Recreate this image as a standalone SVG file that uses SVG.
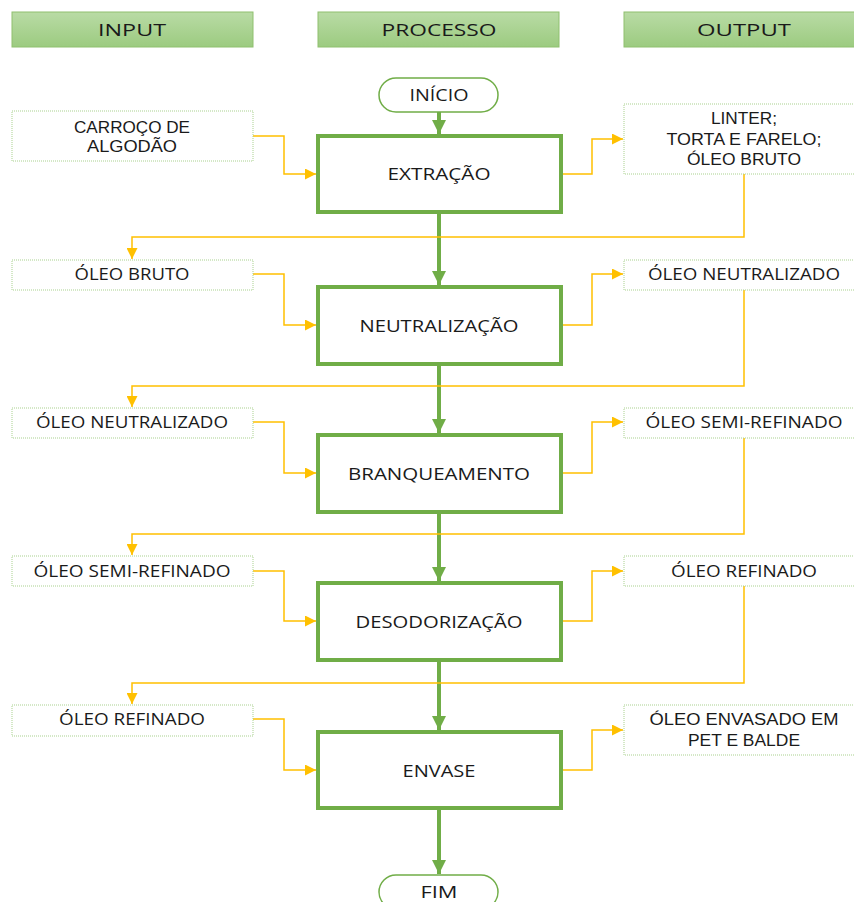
<svg xmlns="http://www.w3.org/2000/svg" width="854" height="902" viewBox="0 0 854 902">
<defs>
<linearGradient id="hg" x1="0" y1="0" x2="0" y2="1">
<stop offset="0" stop-color="#b9dba5"/>
<stop offset="1" stop-color="#9ccb80"/>
</linearGradient>
<marker id="ga" markerUnits="userSpaceOnUse" markerWidth="14" markerHeight="14" viewBox="0 0 14 14" refX="14" refY="7" orient="auto">
<path d="M0,0 L14,7 L0,14 Z" fill="#70ad47"/>
</marker>
<marker id="ya" markerUnits="userSpaceOnUse" markerWidth="11" markerHeight="11" viewBox="0 0 11 11" refX="11" refY="5.5" orient="auto">
<path d="M0,0 L11,5.5 L0,11 Z" fill="#ffc000"/>
</marker>
</defs>
<style>
.hdr{fill:url(#hg);stroke:#8fc06f;stroke-width:1}
.proc{fill:#fff;stroke:#70ad47;stroke-width:4}
.pill{fill:#fff;stroke:#70ad47;stroke-width:1.5}
.io{fill:#fff;stroke:#a9d18e;stroke-width:1;stroke-dasharray:1 1}
.g{fill:none;stroke:#70ad47;stroke-width:4;marker-end:url(#ga)}
.y{fill:none;stroke:#ffc000;stroke-width:1.5;marker-end:url(#ya)}
text{font-family:"Open Sans","Liberation Sans",sans-serif;fill:#1a1a1a;text-anchor:middle;font-size:16px}
.ht{font-size:17px}
.ml{font-family:"Liberation Sans","Open Sans",sans-serif;font-size:16px}
</style>
<rect width="854" height="902" fill="#fff"/>
<g id="hdr-input"><rect class="hdr" x="12" y="12" width="241" height="35"/><text class="ht" x="132" y="36" textLength="68" lengthAdjust="spacingAndGlyphs">INPUT</text></g>
<g id="hdr-processo"><rect class="hdr" x="318" y="12" width="241" height="35"/><text class="ht" x="439" y="36" textLength="115" lengthAdjust="spacingAndGlyphs">PROCESSO</text></g>
<g id="hdr-output"><rect class="hdr" x="624" y="12" width="242" height="35"/><text class="ht" x="744" y="36" textLength="94" lengthAdjust="spacingAndGlyphs">OUTPUT</text></g>

<g id="connectors">
<path class="g" d="M439,112 V134"/>
<path class="g" d="M439,213 V285"/>
<path class="g" d="M439,366 V433"/>
<path class="g" d="M439,514 V581"/>
<path class="g" d="M439,662 V730"/>
<path class="g" d="M439,809 V874"/>
<path class="y" d="M253,136 H284 V174 H316"/>
<path class="y" d="M253,274 H284 V325 H316"/>
<path class="y" d="M253,422 H284 V473 H316"/>
<path class="y" d="M253,571 H284 V621 H316"/>
<path class="y" d="M253,719 H284 V770 H316"/>
<path class="y" d="M561,174 H592 V139 H623"/>
<path class="y" d="M561,325 H592 V274 H623"/>
<path class="y" d="M561,473 H592 V422 H623"/>
<path class="y" d="M561,621 H592 V571 H623"/>
<path class="y" d="M561,770 H592 V730 H623"/>
<path class="y" d="M744,174 V237 H132 V259"/>
<path class="y" d="M744,290 V386 H132 V407"/>
<path class="y" d="M744,438 V534 H132 V555"/>
<path class="y" d="M744,586 V683 H132 V704"/>
</g>

<g id="inicio"><rect class="pill" x="379" y="78" width="119" height="34" rx="17"/><text x="439" y="101" textLength="59" lengthAdjust="spacingAndGlyphs">INÍCIO</text></g>
<g id="fim"><rect class="pill" x="379" y="875" width="119" height="34" rx="17"/><text x="439" y="898" textLength="37" lengthAdjust="spacingAndGlyphs">FIM</text></g>

<g id="extracao"><rect class="proc" x="318" y="136" width="243" height="76"/><text x="439" y="180" textLength="103" lengthAdjust="spacingAndGlyphs">EXTRAÇÃO</text></g>
<g id="neutralizacao"><rect class="proc" x="318" y="287" width="243" height="77"/><text x="439" y="332" textLength="159" lengthAdjust="spacingAndGlyphs">NEUTRALIZAÇÃO</text></g>
<g id="branqueamento"><rect class="proc" x="318" y="435" width="243" height="77"/><text x="439" y="480" textLength="182" lengthAdjust="spacingAndGlyphs">BRANQUEAMENTO</text></g>
<g id="desodorizacao"><rect class="proc" x="318" y="583" width="243" height="77"/><text x="439" y="628" textLength="167" lengthAdjust="spacingAndGlyphs">DESODORIZAÇÃO</text></g>
<g id="envase"><rect class="proc" x="318" y="732" width="243" height="76"/><text x="439" y="777" textLength="73" lengthAdjust="spacingAndGlyphs">ENVASE</text></g>

<g id="in-carroco"><rect class="io" x="12" y="111" width="241" height="50"/><text class="ml" x="132" y="133" textLength="116" lengthAdjust="spacingAndGlyphs">CARROÇO DE</text><text class="ml" x="132" y="152" textLength="90" lengthAdjust="spacingAndGlyphs">ALGODÃO</text></g>
<g id="in-oleo-bruto"><rect class="io" x="12" y="260" width="241" height="30"/><text x="132" y="280" textLength="115" lengthAdjust="spacingAndGlyphs">ÓLEO BRUTO</text></g>
<g id="in-oleo-neutralizado"><rect class="io" x="12" y="408" width="241" height="30"/><text x="132" y="428" textLength="192" lengthAdjust="spacingAndGlyphs">ÓLEO NEUTRALIZADO</text></g>
<g id="in-oleo-semi"><rect class="io" x="12" y="556" width="241" height="30"/><text x="132" y="577" textLength="197" lengthAdjust="spacingAndGlyphs">ÓLEO SEMI-REFINADO</text></g>
<g id="in-oleo-refinado"><rect class="io" x="12" y="705" width="241" height="31"/><text x="132" y="725" textLength="146" lengthAdjust="spacingAndGlyphs">ÓLEO REFINADO</text></g>

<g id="out-linter"><rect class="io" x="624" y="104" width="242" height="70"/><text class="ml" x="744" y="124" textLength="66" lengthAdjust="spacingAndGlyphs">LINTER;</text><text class="ml" x="744" y="145" textLength="155" lengthAdjust="spacingAndGlyphs">TORTA E FARELO;</text><text class="ml" x="744" y="165" textLength="114" lengthAdjust="spacingAndGlyphs">ÓLEO BRUTO</text></g>
<g id="out-oleo-neutralizado"><rect class="io" x="624" y="260" width="242" height="30"/><text x="744" y="280" textLength="192" lengthAdjust="spacingAndGlyphs">ÓLEO NEUTRALIZADO</text></g>
<g id="out-oleo-semi"><rect class="io" x="624" y="408" width="242" height="30"/><text x="744" y="428" textLength="197" lengthAdjust="spacingAndGlyphs">ÓLEO SEMI-REFINADO</text></g>
<g id="out-oleo-refinado"><rect class="io" x="624" y="556" width="242" height="30"/><text x="744" y="577" textLength="146" lengthAdjust="spacingAndGlyphs">ÓLEO REFINADO</text></g>
<g id="out-envasado"><rect class="io" x="624" y="705" width="242" height="50"/><text class="ml" x="744" y="725" textLength="189" lengthAdjust="spacingAndGlyphs">ÓLEO ENVASADO EM</text><text class="ml" x="744" y="746" textLength="112" lengthAdjust="spacingAndGlyphs">PET E BALDE</text></g>
</svg>
